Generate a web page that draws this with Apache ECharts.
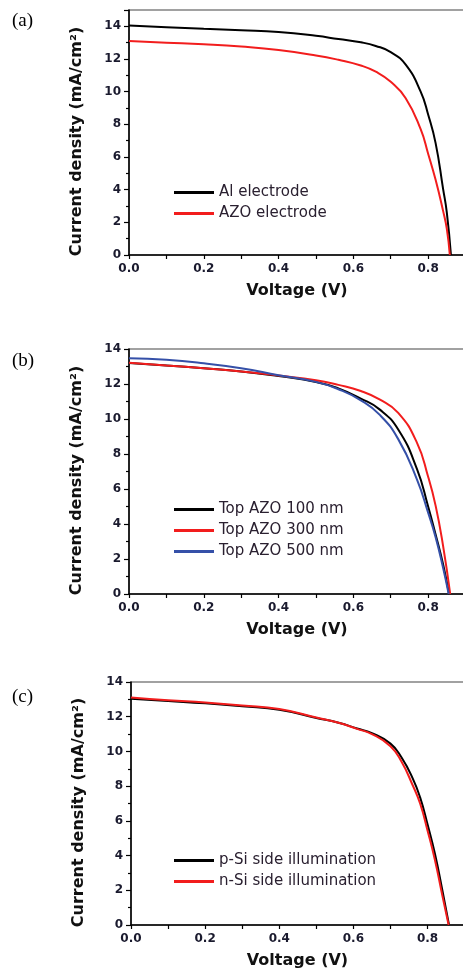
<!DOCTYPE html>
<html>
<head>
<meta charset="utf-8">
<script src="https://cdn.jsdelivr.net/npm/echarts@6/dist/echarts.min.js"></script>
<style>
  html, body { margin: 0; padding: 0; background: #fff; }
  #chart { width: 463px; height: 975px; }
</style>
</head>
<body>
<div id="chart"></div>
<script>
// panel (a): electrode comparison
var vAl = [0, 0.1, 0.2, 0.3, 0.4, 0.5, 0.56, 0.62, 0.66, 0.70, 0.74, 0.78, 0.80, 0.82, 0.84, 0.85, 0.861]
var jAl = [14.05, 13.95, 13.85, 13.76, 13.65, 13.42, 13.22, 13.02, 12.8, 12.42, 11.65, 10.0, 8.6, 6.85, 4.05, 2.6, 0]
var vAzo = [0, 0.1, 0.2, 0.3, 0.4, 0.5, 0.56, 0.62, 0.66, 0.70, 0.74, 0.78, 0.80, 0.82, 0.84, 0.85, 0.858]
var jAzo = [13.1, 13.0, 12.9, 12.76, 12.55, 12.22, 11.95, 11.6, 11.22, 10.6, 9.6, 7.7, 6.2, 4.6, 2.7, 1.6, 0]

// panel (b): top AZO thickness
var v100 = [0, 0.1, 0.2, 0.3, 0.4, 0.5, 0.56, 0.62, 0.67, 0.72, 0.77, 0.80, 0.82, 0.84, 0.856]
var j100 = [13.2, 13.06, 12.9, 12.72, 12.45, 12.12, 11.75, 11.17, 10.55, 9.4, 7.15, 5.0, 3.4, 1.7, 0]
var v300 = [0, 0.1, 0.2, 0.3, 0.4, 0.5, 0.56, 0.62, 0.67, 0.72, 0.77, 0.80, 0.82, 0.84, 0.859]
var j300 = [13.22, 13.06, 12.9, 12.72, 12.48, 12.22, 11.95, 11.6, 11.12, 10.35, 8.65, 6.7, 5.05, 2.75, 0]
var v500 = [0, 0.1, 0.2, 0.3, 0.4, 0.5, 0.56, 0.62, 0.67, 0.72, 0.77, 0.80, 0.82, 0.84, 0.855]
var j500 = [13.47, 13.38, 13.18, 12.9, 12.5, 12.12, 11.7, 11.07, 10.25, 8.85, 6.55, 4.65, 3.25, 1.5, 0]

// panel (c): illumination side
var vPSi = [0, 0.1, 0.2, 0.3, 0.4, 0.5, 0.56, 0.61, 0.65, 0.70, 0.73, 0.76, 0.78, 0.80, 0.82, 0.84, 0.858]
var jPSi = [13.03, 12.9, 12.77, 12.6, 12.4, 11.93, 11.65, 11.32, 11.05, 10.45, 9.65, 8.45, 7.35, 5.8, 4.1, 2.0, 0]
var vNSi = [0, 0.1, 0.2, 0.3, 0.4, 0.5, 0.56, 0.61, 0.65, 0.70, 0.73, 0.76, 0.78, 0.80, 0.82, 0.84, 0.857]
var jNSi = [13.11, 12.95, 12.82, 12.65, 12.44, 11.95, 11.65, 11.3, 11.0, 10.3, 9.4, 8.05, 7.0, 5.45, 3.75, 1.7, 0]

var yMax = [15, 14, 14]
var xMax = 0.92
var panelNames = ['(a)', '(b)', '(c)']

function pairs(v, j) {
  return v.map(function (x, i) { return [x, j[i]] })
}

var tickFont = 'DejaVu Sans'
// plot boxes run past the right edge of the page, like the cropped original
var grids = [
  { left: 129, top: 10, width: 344, height: 245 },
  { left: 129, top: 349, width: 344, height: 245 },
  { left: 131, top: 682, width: 341, height: 243 }
]

function xAxis(i) {
  return {
    gridIndex: i,
    type: 'value',
    min: 0,
    max: xMax,
    interval: 0.1,
    name: 'Voltage (V)',
    nameLocation: 'middle',
    nameGap: 28,
    nameTextStyle: { fontFamily: tickFont, fontWeight: 'bold', fontSize: 16, color: '#111', padding: [0, 0, 0, -8] },
    axisLine: { lineStyle: { color: '#000', width: 1.5 } },
    axisTick: { length: 4, lineStyle: { color: '#000', width: 1.2 } },
    axisLabel: {
      margin: 8,
      fontFamily: tickFont,
      fontWeight: 'bold',
      fontSize: 12,
      color: '#1a1a2e',
      showMaxLabel: false,
      formatter: function (v) {
        return Math.round(v * 10) % 2 === 0 ? v.toFixed(1) : ''
      }
    },
    splitLine: { show: false }
  }
}

function yAxis(i) {
  return {
    gridIndex: i,
    type: 'value',
    min: 0,
    max: yMax[i],
    interval: 2,
    name: 'Current density (mA/cm²)',
    nameLocation: 'middle',
    nameRotate: 90,
    nameGap: 44,
    nameTextStyle: { fontFamily: tickFont, fontWeight: 'bold', fontSize: 16, color: '#111', padding: [0, 0, 0, -18] },
    axisLine: { lineStyle: { color: '#000', width: 1.5 } },
    axisTick: { length: 5, lineStyle: { color: '#000', width: 1.2 } },
    minorTick: { show: true, splitNumber: 2, length: 3, lineStyle: { color: '#000', width: 1.2 } },
    axisLabel: {
      margin: 8,
      fontFamily: tickFont,
      fontWeight: 'bold',
      fontSize: 12,
      color: '#1a1a2e',
      showMaxLabel: i !== 0
    },
    splitLine: { show: false }
  }
}

function legend(names, top) {
  return {
    data: names,
    orient: 'vertical',
    left: 169,
    top: top,
    icon: 'rect',
    itemWidth: 40,
    itemHeight: 3,
    itemGap: 6,
    textStyle: { fontFamily: tickFont, fontSize: 15, color: '#2a2030' }
  }
}

function line(name, v, j, color, i) {
  return {
    name: name,
    type: 'line',
    xAxisIndex: i,
    yAxisIndex: i,
    data: pairs(v, j),
    showSymbol: false,
    smooth: 0.5,
    lineStyle: { color: color, width: 2 },
    itemStyle: { color: color }
  }
}

var chart = echarts.init(document.getElementById('chart'))
chart.setOption({
  animation: false,
  backgroundColor: '#fff',
  grid: grids.map(function (g) {
    return Object.assign({ show: true, borderColor: '#444', borderWidth: 1.2, outerBoundsMode: 'none', containLabel: false }, g)
  }),
  xAxis: [xAxis(0), xAxis(1), xAxis(2)],
  yAxis: [yAxis(0), yAxis(1), yAxis(2)],
  legend: [
    legend(['Al electrode', 'AZO electrode'], 180),
    legend(['Top AZO 100 nm', 'Top AZO 300 nm', 'Top AZO 500 nm'], 497),
    legend(['p-Si side illumination', 'n-Si side illumination'], 848)
  ],
  graphic: panelNames.map(function (t, i) {
    return {
      type: 'text',
      left: 12,
      top: [12, 352, 688][i],
      style: { text: t, font: '19px "Liberation Serif"', fill: '#000' }
    }
  }),
  series: [
    line('Al electrode', vAl, jAl, '#000000', 0),
    line('AZO electrode', vAzo, jAzo, '#f21d1d', 0),
    line('Top AZO 100 nm', v100, j100, '#000000', 1),
    line('Top AZO 300 nm', v300, j300, '#f21d1d', 1),
    line('Top AZO 500 nm', v500, j500, '#3550a8', 1),
    line('p-Si side illumination', vPSi, jPSi, '#000000', 2),
    line('n-Si side illumination', vNSi, jNSi, '#f21d1d', 2)
  ]
})
</script>
</body>
</html>
